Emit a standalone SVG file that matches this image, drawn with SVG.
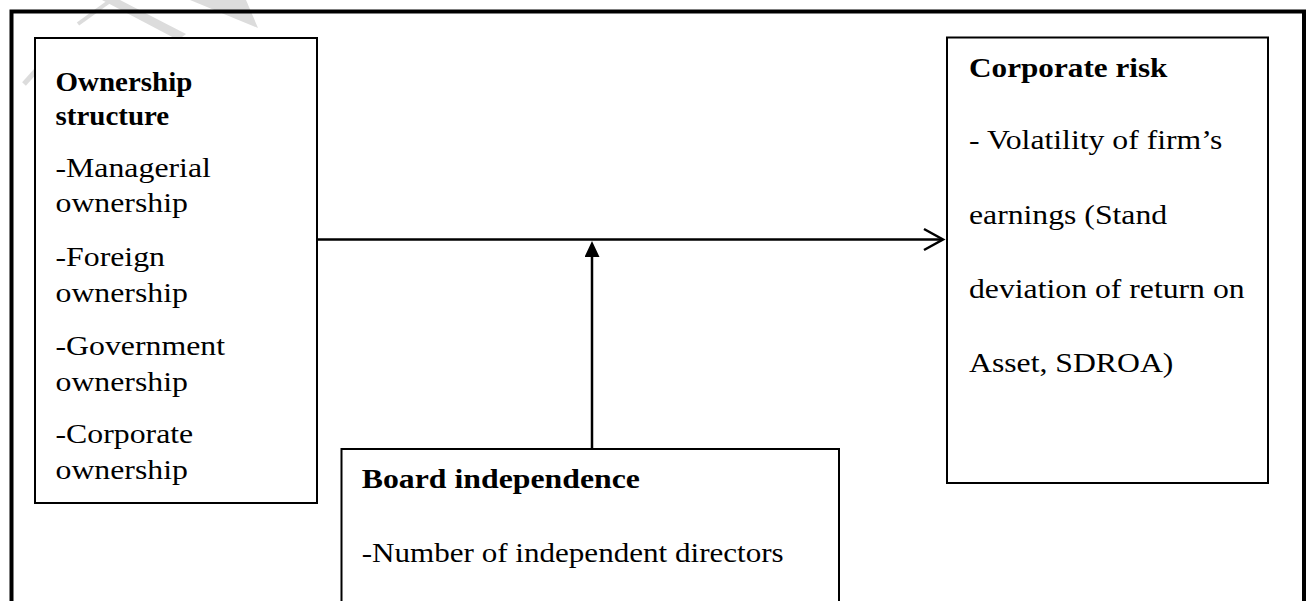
<svg xmlns="http://www.w3.org/2000/svg" width="1307" height="601" viewBox="0 0 1307 601">
  <style>
    .box { fill: #ffffff; stroke: #000000; stroke-width: 2; }
    .frame { fill: none; stroke: #000000; stroke-width: 4; }
    .wm { fill: none; stroke: #dcdcdc; stroke-linecap: butt; }
    .wmf { fill: #dcdcdc; stroke: none; }
    .conn { fill: none; stroke: #000000; stroke-width: 2.5; }
    text { font-family: "Liberation Serif", "Times New Roman", serif; font-size: 28px; fill: #000000; }
    .b { font-weight: bold; }
  </style>
  <defs>
    <marker id="openArrow" markerUnits="userSpaceOnUse" viewBox="-3 -3 26 27" markerWidth="26" markerHeight="27" refX="19" refY="10.5" orient="auto">
      <path d="M0,0 L19,10.5 L0,21" fill="none" stroke="#000000" stroke-width="2.5"/>
    </marker>
    <marker id="solidArrow" markerUnits="userSpaceOnUse" viewBox="0 0 16 15" markerWidth="16" markerHeight="15" refX="7" refY="7.5" orient="auto">
      <path d="M0,0 L16,7.5 L0,15 Z" fill="#000000"/>
    </marker>
  </defs>

  <rect x="0" y="0" width="1307" height="601" fill="#ffffff"/>

  <!-- faint watermark strokes -->
  <g id="watermark">
    <line class="wm" x1="24" y1="84" x2="50" y2="55" stroke-width="5"/>
    <line class="wm" x1="78" y1="24" x2="110" y2="1" stroke-width="4"/>
    <polygon class="wmf" points="102,0 120,0 186,34 178,40"/>
    <polygon class="wmf" points="190,0 246,0 258,28"/>
  </g>

  <!-- outer frame -->
  <path class="frame" d="M11.5,601 V11.5 H1304 V601"/>

  <g id="connectors">
    <line class="conn" x1="317" y1="239.5" x2="943" y2="239.5" marker-end="url(#openArrow)"/>
    <line class="conn" x1="592" y1="449" x2="592" y2="250" marker-end="url(#solidArrow)"/>
  </g>

  <g id="ownership-structure">
    <rect class="box" x="35" y="38" width="282" height="465"/>
    <g transform="translate(55.5 0) scale(1.035 1)">
      <text class="b" x="0" y="90.7">Ownership</text>
      <text class="b" x="0" y="125">structure</text>
    </g>
    <g transform="translate(55.5 0) scale(1.136 1)">
      <text x="0" y="177">-Managerial</text>
      <text x="0" y="212">ownership</text>
      <text x="0" y="266.5">-Foreign</text>
      <text x="0" y="302.5">ownership</text>
      <text x="0" y="355">-Government</text>
      <text x="0" y="391">ownership</text>
      <text x="0" y="443.5">-Corporate</text>
      <text x="0" y="479">ownership</text>
    </g>
  </g>

  <g id="corporate-risk">
    <rect class="box" x="947" y="37.5" width="321" height="445.5"/>
    <g transform="translate(969 0) scale(1.115 1)">
      <text class="b" x="0" y="76.7">Corporate risk</text>
    </g>
    <g transform="translate(969 0) scale(1.133 1)">
      <text x="0" y="149.5">- Volatility of firm’s</text>
      <text x="0" y="224">earnings (Stand</text>
      <text x="0" y="298">deviation of return on</text>
      <text x="0" y="372">Asset, SDROA)</text>
    </g>
  </g>

  <g id="board-independence">
    <path class="box" d="M341.5,612 V449 H839 V612"/>
    <g transform="translate(361.7 0) scale(1.136 1)">
      <text class="b" x="0" y="487.7">Board independence</text>
    </g>
    <g transform="translate(361.7 0) scale(1.11 1)">
      <text x="0" y="561.7">-Number of independent directors</text>
    </g>
  </g>
</svg>
